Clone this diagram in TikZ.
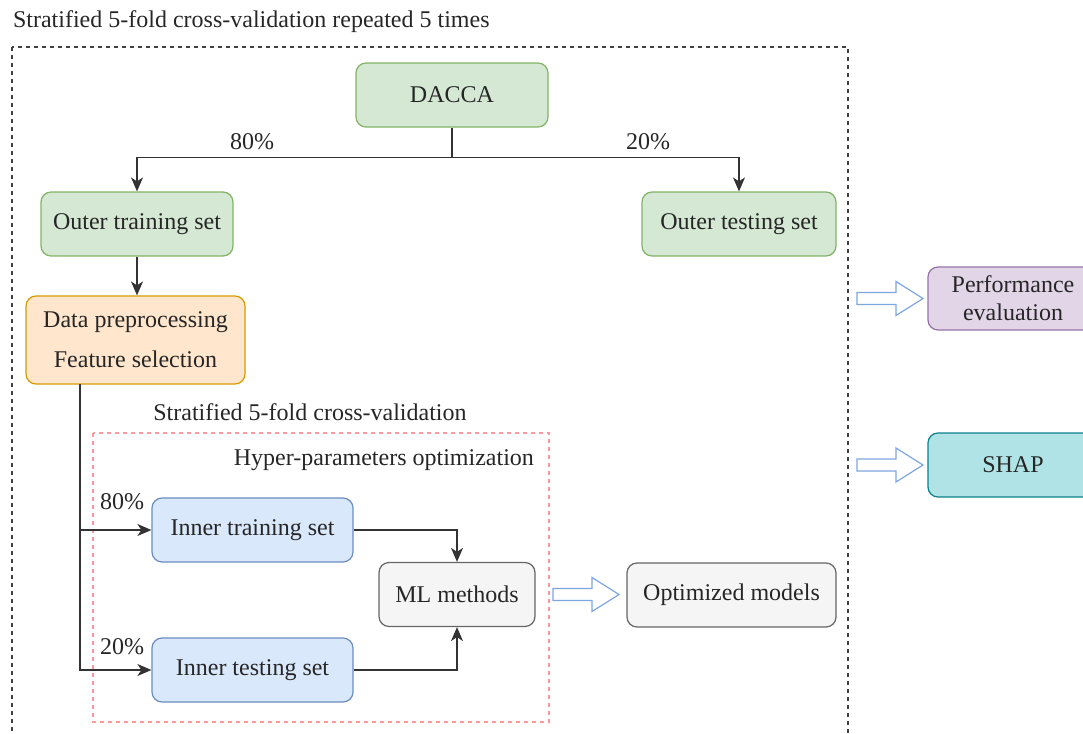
\documentclass[tikz,border=0pt]{standalone}
\usepackage{fontspec}
\setmainfont{Liberation Serif}
\usepackage{tikz}
\usetikzlibrary{positioning,calc,arrows.meta}

\definecolor{grnfill}{HTML}{D5E8D4}
\definecolor{grnline}{HTML}{82B366}
\definecolor{orgfill}{HTML}{FFE6CC}
\definecolor{orgline}{HTML}{D79B00}
\definecolor{blufill}{HTML}{DAE8FC}
\definecolor{bluline}{HTML}{6C8EBF}
\definecolor{gryfill}{HTML}{F5F5F5}
\definecolor{gryline}{HTML}{666666}
\definecolor{prpfill}{HTML}{E1D5E7}
\definecolor{prpline}{HTML}{9673A6}
\definecolor{tealfill}{HTML}{B0E3E6}
\definecolor{tealline}{HTML}{0E8088}
\definecolor{hpoline}{HTML}{FF9999}
\definecolor{arrblue}{HTML}{7EA6E0}

\tikzset{
  box/.style={draw, rounded corners=5pt, line width=0.6pt, minimum width=96pt,
    minimum height=32pt, inner sep=2pt, align=center, text=black!85},
  greenbox/.style={box, fill=grnfill, draw=grnline},
  orangebox/.style={box, fill=orgfill, draw=orgline},
  bluebox/.style={box, fill=blufill, draw=bluline},
  graybox/.style={box, fill=gryfill, draw=gryline},
  link/.style={line width=0.7pt, draw=black!80},
  linkarr/.style={link, -{Stealth[length=7pt,width=6pt,inset=2pt]}},
  hollow/.style={draw=arrblue, fill=white, line width=0.6pt, line join=miter},
}

% hollow block arrow starting at #1
\newcommand{\hollowarrow}[1]{%
  \draw[hollow] (#1) ++(0,-6) -- ++(39,0) -- ++(0,-11) -- ++(27,17)
    -- ++(-27,17) -- ++(0,-11) -- ++(-39,0) -- cycle;}

\begin{document}
\begin{tikzpicture}[x=0.5pt, y=-0.5pt, font=\fontsize{12}{14}\selectfont]
  \useasboundingbox (0,0) rectangle (1083,734);

  % outer loop
  \draw[line width=0.6pt, black!75, dash pattern=on 2pt off 2pt] (12,47) rectangle (848,780);
  \coordinate (outerE) at (848,47);
  \node[anchor=west, text=black!85] (title) at (6,22) {Stratified 5-fold cross-validation repeated 5 times};

  \node[greenbox] (dacca) at (452,95) {DACCA};
  \node[greenbox] (outtrain) at (137,224) {Outer training set};
  \node[greenbox, minimum width=97pt] (outtest) at (739,224) {Outer testing set};
  \node[orangebox, minimum width=109.5pt, minimum height=44pt] (prep) at (135.5,340)
    {Data preprocessing\\[6pt]Feature selection};

  \draw[link] (dacca.south) -- ++(0,30) coordinate (split);
  \draw[linkarr] (split) -| (outtrain.north);
  \draw[linkarr] (split) -| (outtest.north);
  \node[text=black!85] (p80) at (252,142) {80\%};
  \node[text=black!85] (p20) at (648,142) {20\%};
  \draw[linkarr] (outtrain) -- (outtrain |- prep.north);

  % inner loop
  \node[text=black!85] (innertitle) at (310,412) {Stratified 5-fold cross-validation};
  \draw[line width=0.6pt, hpoline, dash pattern=on 2pt off 2pt] (93,433) rectangle (549,722);
  \coordinate (hpoE) at (549,433);
  \node[anchor=east, text=black!85] (hpo) at (541,460) {Hyper-parameters optimization};

  \node[bluebox, minimum width=100.5pt] (intrain) at (252.5,530) {Inner training set};
  \node[bluebox, minimum width=100.5pt] (intest) at (252.5,670) {Inner testing set};
  \node[graybox, minimum width=78pt] (ml) at (457,594.5) {ML methods};
  \node[graybox, minimum width=104.5pt] (optim) at (731.5,595) {Optimized models};
  \node[text=black!85] (q80) at (122,502) {80\%};
  \node[text=black!85] (q20) at (122,647) {20\%};

  \coordinate (trunk) at (80,384);
  \draw[linkarr] (trunk) |- (intrain.west);
  \draw[linkarr] (trunk) |- (intest.west);
  \draw[linkarr] (intrain.east) -| (ml.north);
  \draw[linkarr] (intest.east) -| (ml.south);

  % results
  \node[box, fill=prpfill, draw=prpline, minimum width=85pt, minimum height=31.5pt] (perf)
    at (1013,298.5) {Performance\\evaluation};
  \node[box, fill=tealfill, draw=tealline, minimum width=85pt] (shap) at (1013,465) {SHAP};

  \hollowarrow{$(hpoE |- ml)+(4,0)$}
  \hollowarrow{$(outerE |- perf)+(9,0)$}
  \hollowarrow{$(outerE |- shap)+(9,0)$}
\end{tikzpicture}
\end{document}
